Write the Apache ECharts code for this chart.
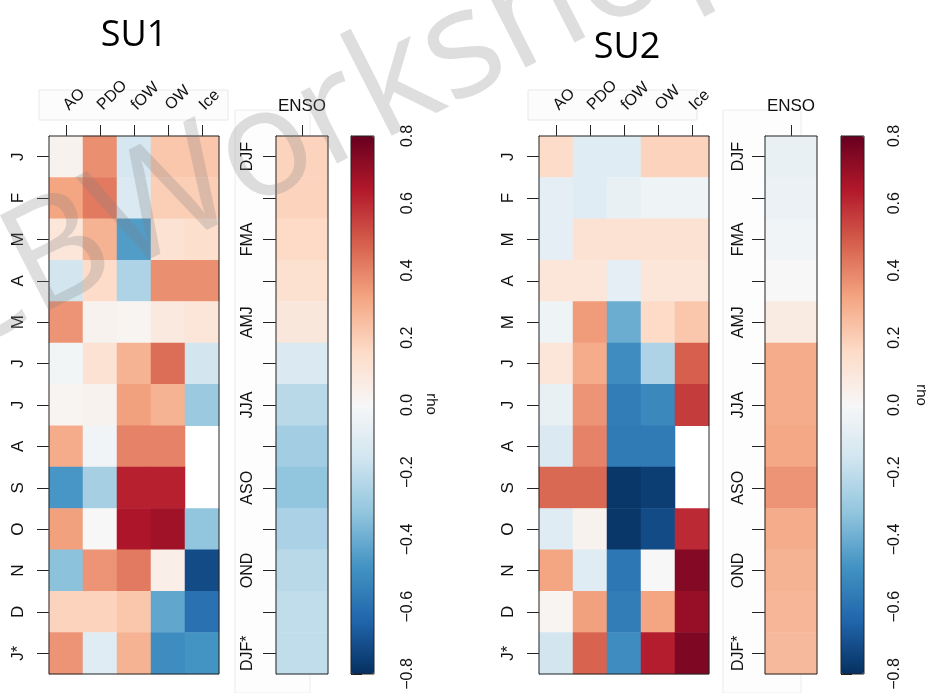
<!DOCTYPE html>
<html>
<head>
<meta charset="utf-8">
<script src="https://cdn.jsdelivr.net/npm/echarts@6/dist/echarts.min.js"></script>
<style>
html,body{margin:0;padding:0;background:#fff;}
#chart{width:926px;height:693px;}
</style>
</head>
<body>
<div id="chart"></div>
<script>
// ---------- data ----------
const predictors = ['AO', 'PDO', 'fOW', 'OW', 'Ice'];
const months = ['J', 'F', 'M', 'A', 'M', 'J', 'J', 'A', 'S', 'O', 'N', 'D', 'J*'];
const ensoColumn = ['ENSO'];
const seasons = ['DJF', 'JFM', 'FMA', 'MAM', 'AMJ', 'MJJ', 'JJA', 'JAS', 'ASO', 'SON', 'OND', 'NDJ', 'DJF*'];
const colorbarTicks = [-0.8, -0.6, -0.4, -0.2, 0.0, 0.2, 0.4, 0.6, 0.8];

// rows = months, columns = AO, PDO, fOW, OW, Ice (null = no value)
const su1 = [
  [0.03, 0.37, -0.14, 0.22, 0.22],
  [0.32, 0.42, -0.12, 0.20, 0.20],
  [0.10, 0.28, -0.45, 0.12, 0.14],
  [-0.15, 0.15, -0.25, 0.37, 0.37],
  [0.36, 0.03, 0.02, 0.08, 0.10],
  [-0.02, 0.12, 0.28, 0.45, -0.15],
  [0.02, 0.03, 0.33, 0.28, -0.30],
  [0.30, -0.03, 0.40, 0.40, null],
  [-0.47, -0.27, 0.62, 0.62, null],
  [0.33, 0.00, 0.65, 0.68, -0.32],
  [-0.33, 0.36, 0.42, 0.05, -0.72],
  [0.18, 0.18, 0.22, -0.42, -0.60],
  [0.36, -0.10, 0.28, -0.50, -0.48]
];
const su2 = [
  [0.15, -0.10, -0.10, 0.18, 0.18],
  [-0.08, -0.10, -0.06, -0.04, -0.04],
  [-0.08, 0.12, 0.12, 0.12, 0.12],
  [0.10, 0.10, -0.08, 0.10, 0.10],
  [-0.04, 0.34, -0.40, 0.16, 0.22],
  [0.10, 0.30, -0.50, -0.25, 0.48],
  [-0.06, 0.36, -0.56, -0.52, 0.56],
  [-0.12, 0.40, -0.57, -0.57, null],
  [0.46, 0.46, -0.78, -0.76, null],
  [-0.10, 0.03, -0.78, -0.72, 0.60],
  [0.32, -0.10, -0.58, 0.00, 0.74],
  [0.02, 0.33, -0.56, 0.32, 0.70],
  [-0.15, 0.47, -0.50, 0.63, 0.75]
];
const ensoSU1 = [0.18, 0.18, 0.16, 0.13, 0.09, -0.12, -0.22, -0.28, -0.32, -0.26, -0.22, -0.20, -0.20];
const ensoSU2 = [-0.06, -0.05, -0.03, 0.00, 0.07, 0.30, 0.30, 0.31, 0.36, 0.30, 0.28, 0.27, 0.26];

// ---------- helpers ----------
const RdBu = ['#053061', '#2166ac', '#4393c3', '#92c5de', '#d1e5f0', '#f7f7f7',
              '#fddbc7', '#f4a582', '#d6604d', '#b2182b', '#67001f'];
const FONT = 'Liberation Sans, Arial, sans-serif';

function matrixToCells(mat) {
  const out = [];
  mat.forEach((row, r) => row.forEach((v, c) => { if (v !== null) out.push([c, r, v]); }));
  return out;
}
function columnToCells(arr) {
  return arr.map((v, r) => [0, r, v]);
}
const fmt = v => (v < 0 ? '\u2212' : '') + Math.abs(v).toFixed(1);

// panel geometry
const TOP = 136, H = 538;
const panels = [
  { name: 'SU1', hx: 49, ex: 276, cx: 351, mat: su1, enso: ensoSU1, ensoMargin: 20, cbMargin: 26 },
  { name: 'SU2', hx: 539, ex: 765, cx: 841, mat: su2, enso: ensoSU2, ensoMargin: 18, cbMargin: 23 }
];

const grid = [], xAxis = [], yAxis = [], series = [], visualMap = [];
panels.forEach((p, pi) => {
  const g0 = grid.length;
  grid.push({ left: p.hx, top: TOP, width: 170, height: H, show: true, borderColor: '#222', borderWidth: 1, backgroundColor: 'transparent', z: 5 });
  grid.push({ left: p.ex, top: TOP, width: 52, height: H, show: true, borderColor: '#222', borderWidth: 1, backgroundColor: 'transparent', z: 5 });
  grid.push({ left: p.cx, top: TOP, width: 23, height: H, show: true, borderColor: '#222', borderWidth: 1, backgroundColor: 'transparent', z: 5 });

  const axisCommon = {
    axisLine: { show: true, lineStyle: { color: '#222', width: 1 } },
    axisTick: { show: true, alignWithLabel: true, length: 11, lineStyle: { color: '#222' } },
    splitLine: { show: false }
  };
  xAxis.push(Object.assign({}, axisCommon, {
    gridIndex: g0, type: 'category', position: 'top', data: predictors,
    axisLabel: { rotate: -45, align: 'left', verticalAlign: 'bottom', margin: 17, interval: 0,
                 padding: [0, 0, 0, 8], fontFamily: FONT, fontSize: 16, color: '#111' }
  }));
  yAxis.push(Object.assign({}, axisCommon, {
    gridIndex: g0, type: 'category', inverse: true, data: months,
    axisTick: { show: true, alignWithLabel: true, length: 12, interval: 0, lineStyle: { color: '#222' } },
    axisLabel: { rotate: 90, margin: 22, interval: 0, fontFamily: FONT, fontSize: 17, color: '#111' }
  }));
  xAxis.push(Object.assign({}, axisCommon, {
    gridIndex: g0 + 1, type: 'category', position: 'top', data: ensoColumn,
    axisLabel: { margin: 21, fontFamily: FONT, fontSize: 17, color: '#111' }
  }));
  yAxis.push(Object.assign({}, axisCommon, {
    gridIndex: g0 + 1, type: 'category', inverse: true, data: seasons,
    axisTick: { show: true, alignWithLabel: true, length: 13, interval: 0, lineStyle: { color: '#222' } },
    axisLabel: { rotate: 90, margin: p.ensoMargin, interval: 1, fontFamily: FONT, fontSize: 16, color: '#111' }
  }));
  xAxis.push({ gridIndex: g0 + 2, type: 'value', show: false, min: 0, max: 1 });
  yAxis.push({
    gridIndex: g0 + 2, type: 'value', position: 'right', min: -0.8, max: 0.8, interval: 0.2,
    axisLine: { show: true, lineStyle: { color: '#222' } },
    axisTick: { show: true, length: 11, lineStyle: { color: '#222' } },
    splitLine: { show: false },
    axisLabel: { rotate: 90, margin: p.cbMargin, fontFamily: FONT, fontSize: 16, color: '#111',
                 formatter: v => fmt(v), customValues: colorbarTicks }
  });

  const sHeat = series.length;
  series.push({
    type: 'heatmap', name: p.name + ' predictors', xAxisIndex: g0, yAxisIndex: g0,
    data: matrixToCells(p.mat), itemStyle: { borderWidth: 0 }, emphasis: { disabled: true }, silent: true
  });
  series.push({
    type: 'heatmap', name: p.name + ' ENSO', xAxisIndex: g0 + 1, yAxisIndex: g0 + 1,
    data: columnToCells(p.enso), itemStyle: { borderWidth: 0 }, emphasis: { disabled: true }, silent: true
  });
  visualMap.push({
    type: 'continuous', min: -0.8, max: 0.8, calculable: false, hoverLink: false,
    orient: 'vertical', left: p.cx, top: TOP, itemWidth: 23, itemHeight: H,
    padding: 0, text: null, showLabel: false,
    inRange: { color: RdBu }, seriesIndex: [sHeat, sHeat + 1]
  });
});

const graphic = [
  { type: 'rect', shape: { x: 39, y: 90, width: 189, height: 30 }, style: { fill: '#fcfcfc', stroke: '#e8e8e8', lineWidth: 1 }, z: -10, silent: true },
  { type: 'rect', shape: { x: 235, y: 110, width: 75, height: 583 }, style: { fill: '#fdfdfd', stroke: '#ececec', lineWidth: 1 }, z: -10, silent: true },
  { type: 'rect', shape: { x: 528, y: 90, width: 169, height: 30 }, style: { fill: '#fcfcfc', stroke: '#e8e8e8', lineWidth: 1 }, z: -10, silent: true },
  { type: 'rect', shape: { x: 723, y: 110, width: 78, height: 583 }, style: { fill: '#fdfdfd', stroke: '#ececec', lineWidth: 1 }, z: -10, silent: true },
  { type: 'text', x: 134, y: 36, style: { text: 'SU1', font: '36px "Open Sans", sans-serif', fill: '#000', align: 'center', verticalAlign: 'middle' } },
  { type: 'text', x: 627, y: 48, style: { text: 'SU2', font: '36px "Open Sans", sans-serif', fill: '#000', align: 'center', verticalAlign: 'middle' } },
  { type: 'text', x: 431, y: 404, rotation: -Math.PI / 2, style: { text: 'rho', font: '15px ' + FONT, fill: '#111', align: 'center', verticalAlign: 'middle' } },
  { type: 'text', x: 921, y: 395, rotation: -Math.PI / 2, style: { text: 'rho', font: '15px ' + FONT, fill: '#111', align: 'center', verticalAlign: 'middle' } },
  { type: 'text', x: -68, y: 322, rotation: 27 * Math.PI / 180, z: 100, silent: true,
    style: { text: 'CBWorkshop', font: '150px "Open Sans", sans-serif', fill: 'rgba(128,128,128,0.26)', align: 'left', verticalAlign: 'middle' } }
];

const chart = echarts.init(document.getElementById('chart'), null, { renderer: 'canvas' });
chart.setOption({
  animation: false,
  backgroundColor: '#fff',
  grid, xAxis, yAxis, series, visualMap, graphic
});
</script>
</body>
</html>
